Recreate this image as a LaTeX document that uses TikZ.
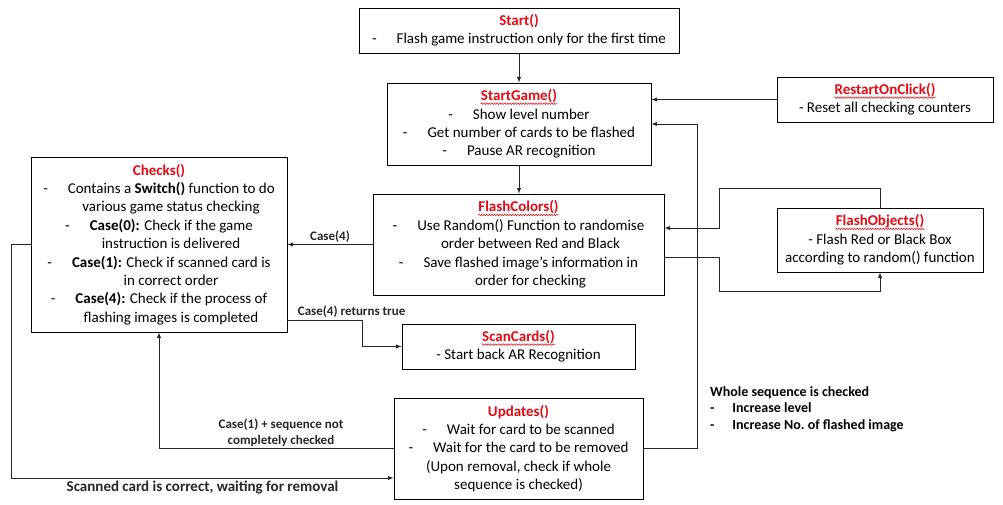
\documentclass[tikz,border=0pt]{standalone}
\usepackage{fontspec}
\setmainfont{Carlito}
\usetikzlibrary{arrows,calc,decorations.pathmorphing}
\definecolor{fnred}{RGB}{228,10,20}
\tikzstyle{box}=[draw,line width=0.9pt,align=center,inner sep=0pt,font=\fontsize{15}{18.4}\selectfont]
\tikzstyle{edge} = [draw,line width=0.9pt,->,>=latex,black!85]
\tikzstyle{cond} = [font=\bfseries\fontsize{13}{15.5}\selectfont,align=center,inner sep=2pt]
\tikzstyle{spell} = [draw,fnred,line width=0.5pt,decorate,decoration={snake,amplitude=0.8pt,segment length=2.6pt}]
\newcommand{\fn}[1]{{\color{fnred}\bfseries #1}}
\newcommand{\fnw}[1]{\tikz[baseline=(w.base)]{\node[draw=none, inner sep=0pt, minimum width=0pt, minimum height=0pt] (w) {\fn{#1}}; \path[spell] ([yshift=-3pt]w.base west) -- ([yshift=-3pt]w.base east);}}
\newcommand{\bul}{-\hspace{20pt}}
\newcommand{\cont}{\hspace*{24pt}}

\begin{document}
\begin{tikzpicture}[x=1pt,y=-1pt]

    \useasboundingbox (0,0) rectangle (1003,505);

    % function boxes
    \node[box, minimum width=320pt, minimum height=45pt] (start) at (519,30.5)
        {\fn{Start()}\\ \bul Flash game instruction only for the first time};
    \node[box, minimum width=264pt, minimum height=82pt] (startgame) at (519,124)
        {\fnw{StartGame()}\\ \bul Show level number\\ \bul Get number of cards to be flashed\\ \bul Pause AR recognition};
    \node[box, minimum width=216pt, minimum height=45pt] (restart) at (885,99.5)
        {\fnw{RestartOnClick()}\\ - Reset all checking counters};
    \node[box, minimum width=256pt, minimum height=175pt] (checks) at (159,244.5)
        {\fn{Checks()}\\
         \bul Contains a \textbf{Switch()} function to do\\ \cont various game status checking\\
         \bul \textbf{Case(0):} Check if the game\\ \cont instruction is delivered\\
         \bul \textbf{Case(1):} Check if scanned card is\\ \cont in correct order\\
         \bul \textbf{Case(4):} Check if the process of\\ \cont flashing images is completed};
    \node[box, minimum width=291pt, minimum height=101pt] (flashcolors) at (518.5,244.5)
        {\fnw{FlashColors()}\\
         \bul Use Random() Function to randomise\\ \cont order between Red and Black\\
         \bul Save flashed image’s information in\\ \cont order for checking};
    \node[box, minimum width=206pt, minimum height=64pt] (flashobjects) at (880,240)
        {\fnw{FlashObjects()}\\ - Flash Red or Black Box\\ according to random() function};
    \node[box, minimum width=233pt, minimum height=45pt] (scancards) at (518.5,346.5)
        {\fnw{ScanCards()}\\ - Start back AR Recognition};
    \node[box, minimum width=249pt, minimum height=101pt] (updates) at (518.5,448.5)
        {\fn{Updates()}\\ \bul Wait for card to be scanned\\ \bul Wait for the card to be removed\\
         (Upon removal, check if whole\\ sequence is checked)};

    \coordinate (loopup) at (719,188);
    \coordinate (loopdown) at (719,291);

    % flow
    \foreach \source/ \dest in {start/startgame, startgame/flashcolors}
        \path[edge] (\source.south) -- (\source.south |- \dest.north);

    \path[edge] (restart.west) -- (restart.west -| startgame.east);
    \path[edge] (updates.east) -- ++(54,0) |- (startgame.east);
    \path[edge] (flashcolors.west) -- node[cond, above] (casefour) {Case(4)} (checks.east);

    \path[edge] (flashobjects.north) |- (loopup) |- ([yshift=16.5pt]flashcolors.east);
    \path[edge] ([yshift=-12.5pt]flashcolors.east) -| (loopdown) -| (flashobjects.south);

    \path[edge] ([yshift=-75.5pt]checks.east) -- node[cond, anchor=south west, pos=0, xshift=8pt] (casetrue) {Case(4) returns true} ++(75,0) |- (scancards.west);
    \path[edge] (updates.west) -| node[cond, above, pos=0.24] (notchecked) {Case(1) + sequence not\\completely checked} (checks.south);
    \path[edge] (checks.west) -- ++(-19,0) |- node[cond, below, pos=0.75, font=\bfseries\fontsize{15}{17}\selectfont] (correct) {Scanned card is correct, waiting for removal} ([yshift=-29.5pt]updates.west);

    \node[cond, anchor=north west, align=left, font=\bfseries\fontsize{14}{16.5}\selectfont] (wholeseq) at (708,384)
        {Whole sequence is checked\\ -\hspace{18pt}Increase level\\ -\hspace{18pt}Increase No.\ of flashed image};

\end{tikzpicture}
\end{document}
